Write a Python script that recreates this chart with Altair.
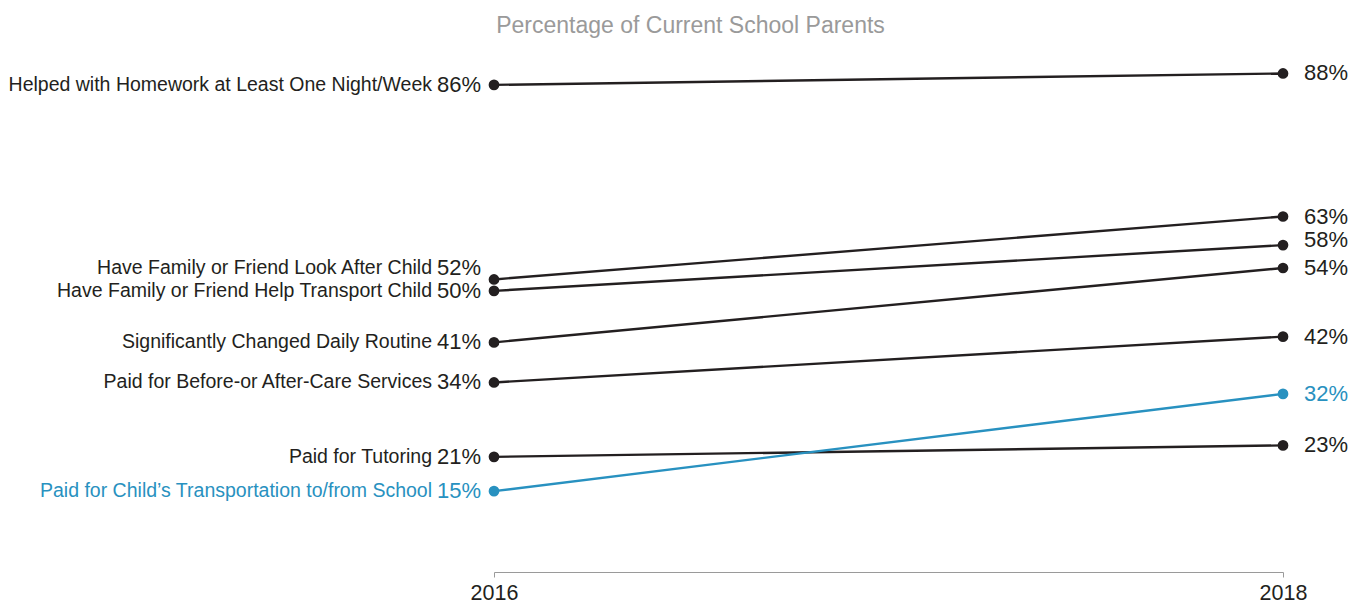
import altair as alt
import pandas as pd

# ---- data ----
categories = [
    "Helped with Homework at Least One Night/Week",
    "Have Family or Friend Look After Child",
    "Have Family or Friend Help Transport Child",
    "Significantly Changed Daily Routine",
    "Paid for Before-or After-Care Services",
    "Paid for Tutoring",
    "Paid for Child\u2019s Transportation to/from School",
]
values_2016 = [86, 52, 50, 41, 34, 21, 15]
values_2018 = [88, 63, 58, 54, 42, 23, 32]
groups = ["base", "base", "base", "base", "base", "base", "highlight"]
years = [2016, 2018]
title_text = "Percentage of Current School Parents"

rows = []
for cat, v16, v18, g in zip(categories, values_2016, values_2018, groups):
    for yr, v in zip(years, [v16, v18]):
        rows.append({"category": cat, "year": yr, "value": v, "group": g, "pct": f"{v}%"})
df = pd.DataFrame(rows)

BLACK = "#231f20"
BLUE = "#2891c0"
FONT = "Liberation Sans"
NAME_SIZE = 19.5
PCT_SIZE = 22

x_enc = alt.X(
    "year:Q",
    scale=alt.Scale(domain=[2016, 2018], nice=False, zero=False),
    axis=alt.Axis(
        values=years, format="d", title=None, grid=False,
        domainColor="#9a9a9a", tickColor="#9a9a9a", tickSize=5,
        domainWidth=1, tickWidth=1, offset=-5, labelFlush=False,
        labelFontSize=21.5, labelColor=BLACK, labelPadding=5, labelFont=FONT,
    ),
)
y_enc = alt.Y("value:Q", scale=alt.Scale(domain=[0, 90], nice=False), axis=None)
color_enc = alt.Color(
    "group:N",
    scale=alt.Scale(domain=["base", "highlight"], range=[BLACK, BLUE]),
    legend=None,
)

base = alt.Chart(df).encode(x=x_enc, y=y_enc, color=color_enc)

lines = base.mark_line(strokeWidth=2.4).encode(detail="category:N")
points = base.mark_circle(size=115, opacity=1)

left = base.transform_filter(alt.datum.year == 2016)
right = base.transform_filter(alt.datum.year == 2018)

NUDGE_LEFT = "Have Family or Friend Look After Child"
NUDGE_RIGHT = "Have Family or Friend Help Transport Child"

left_names = left.transform_filter(alt.datum.category != NUDGE_LEFT).mark_text(
    align="right", baseline="middle", dx=-62, fontSize=NAME_SIZE, font=FONT
).encode(text="category:N")
left_names_n = left.transform_filter(alt.datum.category == NUDGE_LEFT).mark_text(
    align="right", baseline="middle", dx=-62, dy=-11, fontSize=NAME_SIZE, font=FONT
).encode(text="category:N")
left_pct = left.transform_filter(alt.datum.category != NUDGE_LEFT).mark_text(
    align="right", baseline="middle", dx=-13, fontSize=PCT_SIZE, font=FONT
).encode(text="pct:N")
left_pct_n = left.transform_filter(alt.datum.category == NUDGE_LEFT).mark_text(
    align="right", baseline="middle", dx=-13, dy=-11, fontSize=PCT_SIZE, font=FONT
).encode(text="pct:N")
right_pct = right.transform_filter(alt.datum.category != NUDGE_RIGHT).mark_text(
    align="left", baseline="middle", dx=21, fontSize=PCT_SIZE, font=FONT
).encode(text="pct:N")
right_pct_n = right.transform_filter(alt.datum.category == NUDGE_RIGHT).mark_text(
    align="left", baseline="middle", dx=21, dy=-5, fontSize=PCT_SIZE, font=FONT
).encode(text="pct:N")

chart = alt.layer(
    lines, points, left_names, left_names_n, left_pct, left_pct_n, right_pct, right_pct_n
).properties(
    width=789,
    height=515,
    title=alt.TitleParams(
        text=title_text, anchor="middle", frame="group", dx=-198,
        offset=6, baseline="alphabetic", fontSize=23, fontWeight="normal",
        color="#9a9a9a", font=FONT,
    ),
    autosize=alt.AutoSizeParams(type="none"),
    padding={"left": 486, "top": 54, "right": 72, "bottom": 27},
).configure(font=FONT, view=alt.ViewConfig(stroke=None, strokeWidth=0))

chart.save("out.html", embed_options={"renderer": "svg", "actions": False})
